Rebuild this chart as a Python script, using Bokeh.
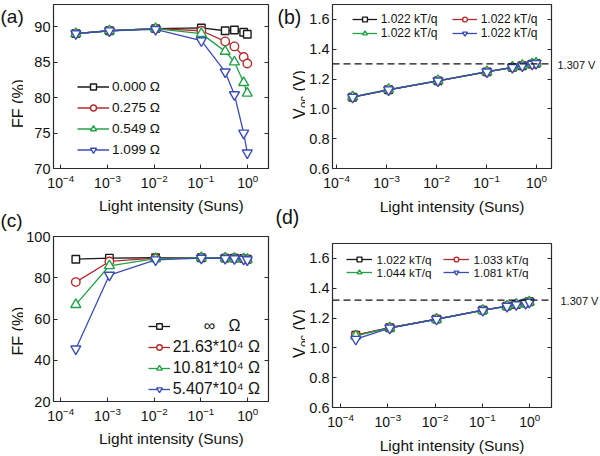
import numpy as np
from bokeh.plotting import figure
from bokeh.layouts import row, column
from bokeh.models import (Range1d, FixedTicker, LinearAxis, Label, Span, Legend,
                          LegendItem, PrintfTickFormatter)
from bokeh.embed import file_html
from bokeh.resources import INLINE

# ---------------- data ----------------
intensity = [2.1e-4, 1.1e-3, 1.07e-2, 0.102, 0.33, 0.52, 0.82, 0.98]
decade_ticks = [1e-4, 1e-3, 1e-2, 1e-1, 1.0]

# (a) FF vs intensity for series resistances
a_labels = ["0.000 Ω", "0.275 Ω", "0.549 Ω", "1.099 Ω"]
a_ff_0000 = [89.0, 89.4, 89.7, 89.8, 89.4, 89.5, 89.2, 88.9]
a_ff_0275 = [89.0, 89.4, 89.7, 89.4, 87.9, 87.2, 85.7, 84.8]
a_ff_0549 = [89.0, 89.4, 89.7, 89.0, 86.5, 85.0, 82.1, 80.6]
a_ff_1099 = [89.0, 89.4, 89.6, 88.0, 83.6, 80.4, 75.0, 72.2]

# (b) Voc vs intensity for series resistances
b_labels = ["1.022 kT/q", "1.022 kT/q", "1.022 kT/q", "1.022 kT/q"]
b_voc_0000 = [1.078, 1.128, 1.188, 1.248, 1.278, 1.289, 1.300, 1.305]
b_voc_0275 = [1.078, 1.128, 1.188, 1.248, 1.278, 1.289, 1.300, 1.305]
b_voc_0549 = [1.080, 1.130, 1.190, 1.250, 1.280, 1.291, 1.302, 1.307]
b_voc_1099 = [1.078, 1.128, 1.188, 1.248, 1.278, 1.289, 1.300, 1.305]
b_limit = 1.302

# (c) FF vs intensity for shunt resistances
c_labels = ["\u00a0\u00a0\u00a0\u00a0\u00a0\u00a0\u00a0∞\u00a0\u00a0\u00a0Ω",
            "21.63*10⁴ Ω", "10.81*10⁴ Ω", "5.407*10⁴ Ω"]
c_ff_inf = [89.0, 89.5, 89.7, 89.7, 89.5, 89.5, 89.3, 89.0]
c_ff_2163 = [77.9, 87.9, 89.5, 89.7, 89.5, 89.5, 89.2, 88.9]
c_ff_1081 = [67.0, 85.8, 89.3, 89.7, 89.5, 89.4, 89.2, 88.9]
c_ff_5407 = [45.5, 81.3, 88.7, 89.5, 89.4, 89.3, 89.0, 88.7]

# (d) Voc vs intensity for shunt resistances
d_labels = ["1.022 kT/q", "1.033 kT/q", "1.044 kT/q", "1.081 kT/q"]
d_voc_inf = [1.085, 1.135, 1.193, 1.253, 1.280, 1.291, 1.300, 1.309]
d_voc_2163 = [1.085, 1.135, 1.193, 1.253, 1.280, 1.291, 1.300, 1.309]
d_voc_1081 = [1.080, 1.134, 1.192, 1.252, 1.280, 1.291, 1.300, 1.308]
d_voc_5407 = [1.058, 1.133, 1.192, 1.251, 1.279, 1.290, 1.299, 1.307]
d_limit = 1.320
limit_text = "1.307 V"
x_title = "Light intensity (Suns)"
ff_title = "FF (%)"

# ---------------- style ----------------
FONT = "Liberation Sans"
TXT = "#111111"
COLORS = ["#1a1a1a", "#b32a2d", "#22a247", "#3a4db5"]
MARKERS = ["square", "circle", "triangle", "inverted_triangle"]
MSIZES = [7.5, 8.5, 10, 10]
VOC_Y = (0.6, 1.70)


def panel(width, height, bl, br, bt, bb, xr, yr, yticks, yfmt):
    p = figure(width=width, height=height, x_axis_type="log",
               x_range=Range1d(10 ** xr[0], 10 ** xr[1]), y_range=Range1d(*yr),
               output_backend="svg", toolbar_location=None,
               min_border_left=bl, min_border_right=br,
               min_border_top=bt, min_border_bottom=bb)
    p.grid.visible = False
    p.background_fill_color = "white"
    p.border_fill_color = "white"
    p.outline_line_color = "#2a2a2a"
    p.outline_line_width = 1.2
    xa = p.xaxis[0]
    xa.ticker = FixedTicker(ticks=decade_ticks)
    xa.minor_tick_line_color = None
    xa.major_tick_in = 4
    xa.major_tick_out = 0
    xa.axis_line_color = None
    xa.major_tick_line_color = "#2a2a2a"
    xa.major_label_text_font = FONT
    xa.major_label_text_font_size = "14px"
    xa.major_label_text_color = TXT
    xa.major_label_standoff = 5
    ya = p.yaxis[0]
    ya.ticker = FixedTicker(ticks=yticks)
    ya.formatter = PrintfTickFormatter(format=yfmt)
    ya.minor_tick_line_color = None
    ya.major_tick_in = 4
    ya.major_tick_out = 0
    ya.axis_line_color = None
    ya.major_tick_line_color = "#2a2a2a"
    ya.major_label_text_font = FONT
    ya.major_label_text_font_size = "14.5px"
    ya.major_label_text_color = TXT
    ya.major_label_standoff = 3
    right = LinearAxis(ticker=FixedTicker(ticks=yticks), major_label_text_font_size="0px",
                       major_label_text_alpha=0, major_label_text_color=None,
                       major_tick_in=4, major_tick_out=0, minor_tick_line_color=None,
                       axis_line_color=None, major_tick_line_color="#2a2a2a",
                       major_label_standoff=0)
    p.add_layout(right, "right")
    return p


def strip(width, height):
    s = figure(width=width, height=height, x_range=Range1d(0, width),
               y_range=Range1d(height, 0), output_backend="svg",
               toolbar_location=None, min_border=0,
               x_axis_location=None, y_axis_location=None)
    s.outline_line_color = None
    s.grid.visible = False
    s.background_fill_color = "white"
    s.border_fill_color = "white"
    return s


def draw(p, series):
    rends = []
    for vals, c, m, s in zip(series, COLORS, MARKERS, MSIZES):
        ln = p.line(intensity, vals, line_color=c, line_width=1.3)
        sc = p.scatter(intensity, vals, marker=m, size=s, line_color=c,
                       fill_color="white", line_width=1.4)
        rends.append([ln, sc])
    return rends


def txt(s, text, x, y, size, angle=0.0, align="left", baseline="middle"):
    s.add_layout(Label(x=x, y=y, text=text, angle=angle, text_align=align,
                       text_baseline=baseline, text_font=FONT,
                       text_font_size=size, text_color=TXT))


def voc_label(s, x, y_start):
    # V, subscript "oc", then "(V)", reading bottom to top
    txt(s, "V", x, y_start, "16px", angle=np.pi / 2, baseline="alphabetic")
    txt(s, "oc", x + 3.3, y_start - 10.9, "11.5px", angle=np.pi / 2, baseline="alphabetic")
    txt(s, "(V)", x, y_start - 27.5, "16px", angle=np.pi / 2, baseline="alphabetic")


def legend(items, loc, **kw):
    base = dict(location=loc, padding=0, margin=0, label_text_font=FONT,
                label_text_color=TXT, border_line_color=None, background_fill_alpha=0)
    base.update(kw)
    return Legend(items=items, **base)


# ---------------- panel (a) ----------------
pa = panel(249, 195, 28, 4, 4, 27, (-4.155, 0.445), (70, 93.1), [70, 75, 80, 85, 90], "%d")
ra = draw(pa, [a_ff_0000, a_ff_0275, a_ff_0549, a_ff_1099])
pa.add_layout(legend([LegendItem(label=l, renderers=r) for l, r in zip(a_labels, ra)],
                     (24, 11), spacing=6, label_height=15, glyph_height=15, glyph_width=32,
                     label_standoff=3, label_text_font_size="13.6px"))

# ---------------- panel (b) ----------------
pb = panel(250, 195, 27, 4, 4, 27, (-4.08, 0.30), VOC_Y,
           [0.6, 0.8, 1.0, 1.2, 1.4, 1.6], "%.1f")
pb.add_layout(Span(location=b_limit, dimension="width", line_color="#111111",
                   line_dash="7 4", line_width=1.3))
rb = draw(pb, [b_voc_0000, b_voc_0275, b_voc_0549, b_voc_1099])
pb.add_layout(legend([LegendItem(label=l, renderers=r) for l, r in zip(b_labels, rb)],
                     (19.7, 128.5), orientation="horizontal", nrows=2, spacing=0,
                     label_height=12, glyph_height=12, glyph_width=25, label_standoff=4,
                     label_width=71, label_text_font_size="12px"))

# ---------------- panel (c) ----------------
pc = panel(249, 208, 28, 4, 16, 27, (-4.155, 0.445), (20, 100), [20, 40, 60, 80, 100], "%d")
rc = draw(pc, [c_ff_inf, c_ff_2163, c_ff_1081, c_ff_5407])
pc.add_layout(legend([LegendItem(label=l, renderers=r) for l, r in zip(c_labels, rc)],
                     (94.7, 3), spacing=3, label_height=14, glyph_height=14, glyph_width=22,
                     label_standoff=3, label_text_font_size="16px"))

# ---------------- panel (d) ----------------
pd_ = panel(250, 212, 27, 4, 21, 27, (-4.17, 0.46), VOC_Y,
            [0.6, 0.8, 1.0, 1.2, 1.4, 1.6], "%.1f")
pd_.add_layout(Span(location=d_limit, dimension="width", line_color="#111111",
                    line_dash="7 4", line_width=1.3))
rd = draw(pd_, [d_voc_inf, d_voc_2163, d_voc_1081, d_voc_5407])
pd_.add_layout(legend([LegendItem(label=l, renderers=r) for l, r in zip(d_labels, rd)],
                      (14.4, 128.5), orientation="horizontal", nrows=2, spacing=0,
                      label_height=12, glyph_height=12, glyph_width=26, label_standoff=4,
                      label_width=67, label_text_font_size="11.7px"))

# ---------------- text strips (outside the plot frames) ----------------
left = strip(23, 456)
txt(left, "(a)", 0, 16, "19px")
txt(left, ff_title, 17.5, 103, "16px", angle=np.pi / 2, align="center", baseline="alphabetic")
txt(left, "(c)", 0, 219.5, "19px")
txt(left, ff_title, 17.5, 330.5, "16px", angle=np.pi / 2, align="center", baseline="alphabetic")

mid = strip(33, 456)
txt(mid, "(b)", 5, 16, "19.5px")
voc_label(mid, 27.0, 118.5)
txt(mid, "(d)", 3, 216.5, "19.5px")
voc_label(mid, 27.0, 357.5)


def y_of(val, frame_top, frame_h, rng):
    return frame_top + (rng[1] - val) / (rng[1] - rng[0]) * frame_h


right_s = strip(45, 456)
txt(right_s, limit_text, 2, y_of(b_limit, 4, 164, VOC_Y) + 1.5, "11px")
txt(right_s, limit_text, 5, 195 + 27 + y_of(d_limit, 21, 164, VOC_Y) + 1, "11px")

sa = strip(249, 25)
txt(sa, x_title, 136.5, 10, "15.5px", align="center")
sc_ = strip(249, 28)
txt(sc_, x_title, 136.5, 10, "15.5px", align="center")
sb = strip(250, 27)
txt(sb, x_title, 136.5, 11, "15.5px", align="center")
sd = strip(250, 22)
txt(sd, x_title, 136.5, 10.5, "15.5px", align="center")

layout = row(left, column(pa, sa, pc, sc_), mid, column(pb, sb, pd_, sd), right_s)
open("out.html", "w").write(file_html(layout, INLINE))
